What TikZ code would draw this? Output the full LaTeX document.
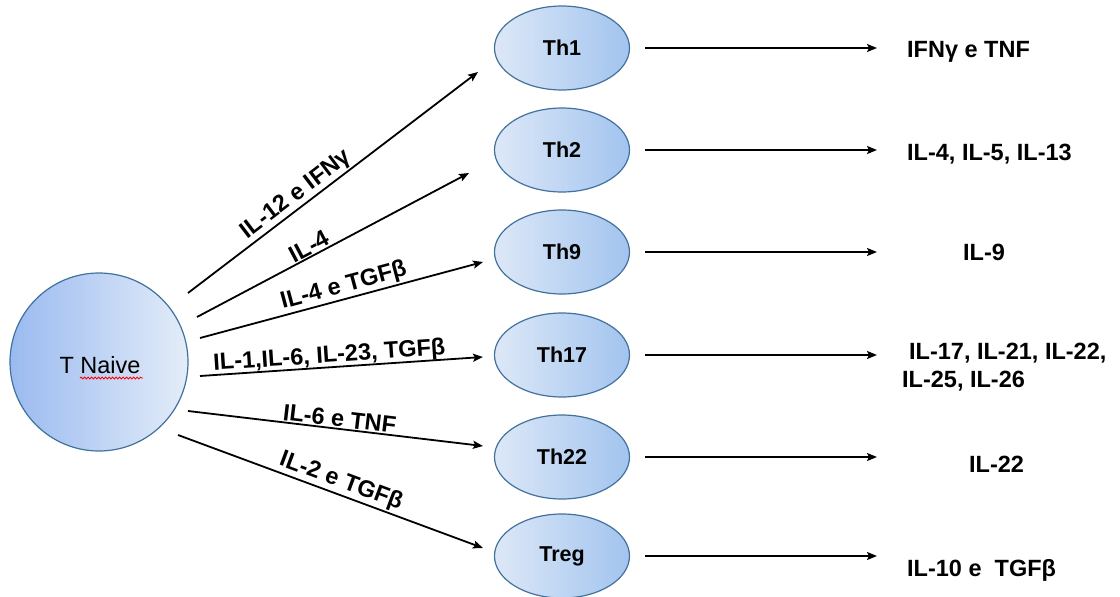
\documentclass[tikz,border=0pt]{standalone}
\usepackage{fontspec}
\setmainfont{Liberation Sans}
\usetikzlibrary{shapes.geometric,arrows.meta,decorations.pathmorphing}

\definecolor{cellline}{HTML}{41719C}
\definecolor{celldark}{HTML}{A2C4EF}
\definecolor{celllight}{HTML}{DDE8F7}

\tikzset{
  cell/.style={ellipse, draw=cellline, line width=1.2pt, inner sep=0pt,
    minimum width=135pt, minimum height=84pt,
    left color=celllight, right color=celldark,
    font=\fontsize{21.5}{26}\selectfont\bfseries},
  naivecell/.style={circle, draw=cellline, line width=1.2pt, inner sep=0pt,
    minimum size=178pt, left color=celldark!95!blue, right color=celllight!80!white,
    font=\fontsize{23}{28}\selectfont},
  link/.style={line width=1.8pt, -{Stealth[length=10pt,width=8pt,inset=2pt]}},
  cue/.style={sloped, above, inner sep=1pt,
    font=\fontsize{23.5}{28}\selectfont\bfseries},
  product/.style={inner sep=0pt, align=left,
    font=\fontsize{23.5}{28}\selectfont\bfseries}
}

\begin{document}
\begin{tikzpicture}[x=1pt,y=1pt]
\useasboundingbox (0,0) rectangle (1120,-597);

% naive T cell
\node[naivecell] (naive) at (99,-362) {};
\node[inner sep=0pt, font=\fontsize{23.5}{28}\selectfont] (naivelabel) at (100,-365) {T Naive};
\draw[red, line width=0.8pt, decorate,
  decoration={snake, amplitude=1pt, segment length=3.5pt}]
  (80,-378) -- (143,-378);

% effector subsets
\node[cell] (th1)  at (562,-48)  {Th1};
\node[cell] (th2)  at (562,-150) {Th2};
\node[cell] (th9)  at (562,-252) {Th9};
\node[cell] (th17) at (562,-355) {Th17};
\node[cell] (th22) at (562,-457) {Th22};
\node[cell] (treg) at (562,-556) {Treg};

% polarising signals: start and end points of each arrow
\coordinate (s1) at (188,-293); \coordinate (e1) at (478,-72);
\coordinate (s2) at (197,-317); \coordinate (e2) at (469,-173);
\coordinate (s3) at (200,-338); \coordinate (e3) at (483,-262);
\coordinate (s4) at (200,-376); \coordinate (e4) at (483,-357);
\coordinate (s5) at (188,-411); \coordinate (e5) at (483,-446);
\coordinate (s6) at (178,-435); \coordinate (e6) at (483,-548);

\draw[link] (s1) -- node[cue, pos=0.40] {IL-12 e IFNγ} (e1);
\draw[link] (s2) -- node[cue, pos=0.43] {IL-4} (e2);
\draw[link] (s3) -- node[cue, pos=0.52] {IL-4 e TGFβ} (e3);
\draw[link] (s4) -- node[cue, pos=0.46, inner sep=-1pt] {IL-1,IL-6, IL-23, TGFβ} (e4);
\draw[link] (s5) -- node[cue, pos=0.51] {IL-6 e TNF} (e5);
\draw[link] (s6) -- node[cue, pos=0.52] {IL-2 e TGFβ} (e6);

% secreted cytokines
\coordinate (a1) at (877,-48);
\coordinate (a2) at (877,-150);
\coordinate (a3) at (877,-252);
\coordinate (a4) at (877,-355);
\coordinate (a5) at (877,-457);
\coordinate (a6) at (877,-556);

\draw[link, shorten <=15pt] (th1)  -- (a1);
\draw[link, shorten <=15pt] (th2)  -- (a2);
\draw[link, shorten <=15pt] (th9)  -- (a3);
\draw[link, shorten <=15pt] (th17) -- (a4);
\draw[link, shorten <=15pt] (th22) -- (a5);
\draw[link, shorten <=15pt] (treg) -- (a6);

\node[product, anchor=base west] (p1) at (907,-57)  {IFNγ e TNF};
\node[product, anchor=base west] (p2) at (907,-160) {IL-4, IL-5, IL-13};
\node[product, anchor=base west] (p3) at (963,-260) {IL-9};
\node[product, anchor=base west] (p4a) at (909,-359) {IL-17, IL-21, IL-22,};
\node[product, anchor=base west] (p4b) at (902,-387) {IL-25, IL-26};
\node[product, anchor=base west] (p5) at (969,-472) {IL-22};
\node[product, anchor=base west] (p6) at (907,-576) {IL-10 e\ \ TGFβ};
\end{tikzpicture}
\end{document}
